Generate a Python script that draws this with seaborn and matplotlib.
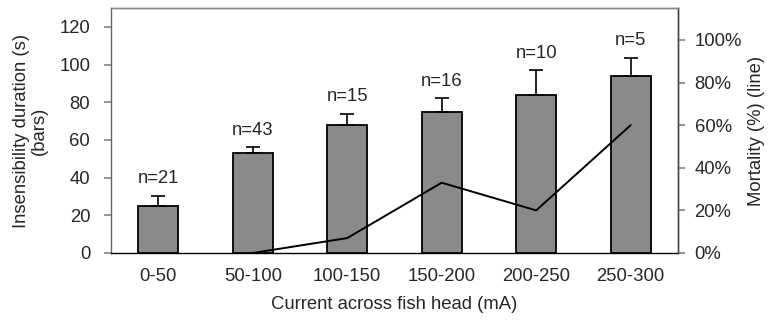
import numpy as np
import pandas as pd
import matplotlib
matplotlib.use("Agg")
import matplotlib.pyplot as plt
import seaborn as sns

categories = ["0-50", "50-100", "100-150", "150-200", "200-250", "250-300"]
insensibility = [25, 53, 68, 75, 84, 94]
insens_err = [5.5, 3, 6, 7, 13, 9.5]
n_labels = ["n=21", "n=43", "n=15", "n=16", "n=10", "n=5"]
mortality = [np.nan, 0.0, 0.07, 0.33, 0.20, 0.60]

sns.set_theme(style="white")
plt.rcParams['font.family'] = ['Liberation Sans', 'DejaVu Sans']
FS = 13.3

df = pd.DataFrame({"cat": categories, "ins": insensibility, "err": insens_err,
                   "mort": mortality, "n": n_labels})

fig = plt.figure(figsize=(7.73, 3.27), dpi=100)
ax = fig.add_axes([0.1436, 0.2263, 0.877 - 0.1436, 0.9755 - 0.2263])

sns.barplot(data=df, x="cat", y="ins", ax=ax, color="#8a8a8a", width=0.42,
            edgecolor="black", linewidth=1.3, saturation=1)
xs = np.arange(len(categories))
ax.errorbar(xs, df["ins"], yerr=[np.zeros(len(xs)), df["err"]], fmt="none",
            ecolor="black", elinewidth=1.2, capsize=5, capthick=1.2)
for x, y, e, t in zip(xs, df["ins"], df["err"], df["n"]):
    ax.text(x, y + e + 4.5, t, ha="center", va="bottom", fontsize=FS)

ax.set_xlim(-0.5, 5.5)
ax.set_ylim(0, 130)
ax.set_yticks([0, 20, 40, 60, 80, 100, 120])
ax.set_xlabel("Current across fish head (mA)", fontsize=FS, labelpad=8)
ax.set_ylabel("Insensibility duration (s)\n(bars)", fontsize=FS, labelpad=8,
              linespacing=1.05)
ax.tick_params(axis="y", direction="out", length=5, color="#888888",
               labelsize=FS, left=True, pad=10)
ax.tick_params(axis="x", length=0, labelsize=FS, pad=11)

ax2 = ax.twinx()
sns.lineplot(x=xs, y=df["mort"], ax=ax2, color="black", linewidth=1.4)
ax2.set_ylim(0, 1.15)
ax2.set_yticks([0, 0.2, 0.4, 0.6, 0.8, 1.0])
ax2.set_yticklabels(["0%", "20%", "40%", "60%", "80%", "100%"])
ax2.set_ylabel("Mortality (%) (line)", fontsize=FS, labelpad=4)
ax2.tick_params(axis="y", direction="out", length=5, color="#888888",
                labelsize=FS, right=True, pad=7)
ax2.set_xlim(-0.5, 5.5)

for a in (ax, ax2):
    a.spines["left"].set_color("#666666")
    a.spines["right"].set_color("#444444")
    a.spines["bottom"].set_color("black")
    a.spines["top"].set_color("#888888")
    a.spines["top"].set_linestyle((0, (1, 1)))
    for s in a.spines.values():
        s.set_linewidth(1.0)
ax2.spines["left"].set_visible(False)
ax2.spines["bottom"].set_visible(False)

fig.savefig("out.png", dpi=100)
